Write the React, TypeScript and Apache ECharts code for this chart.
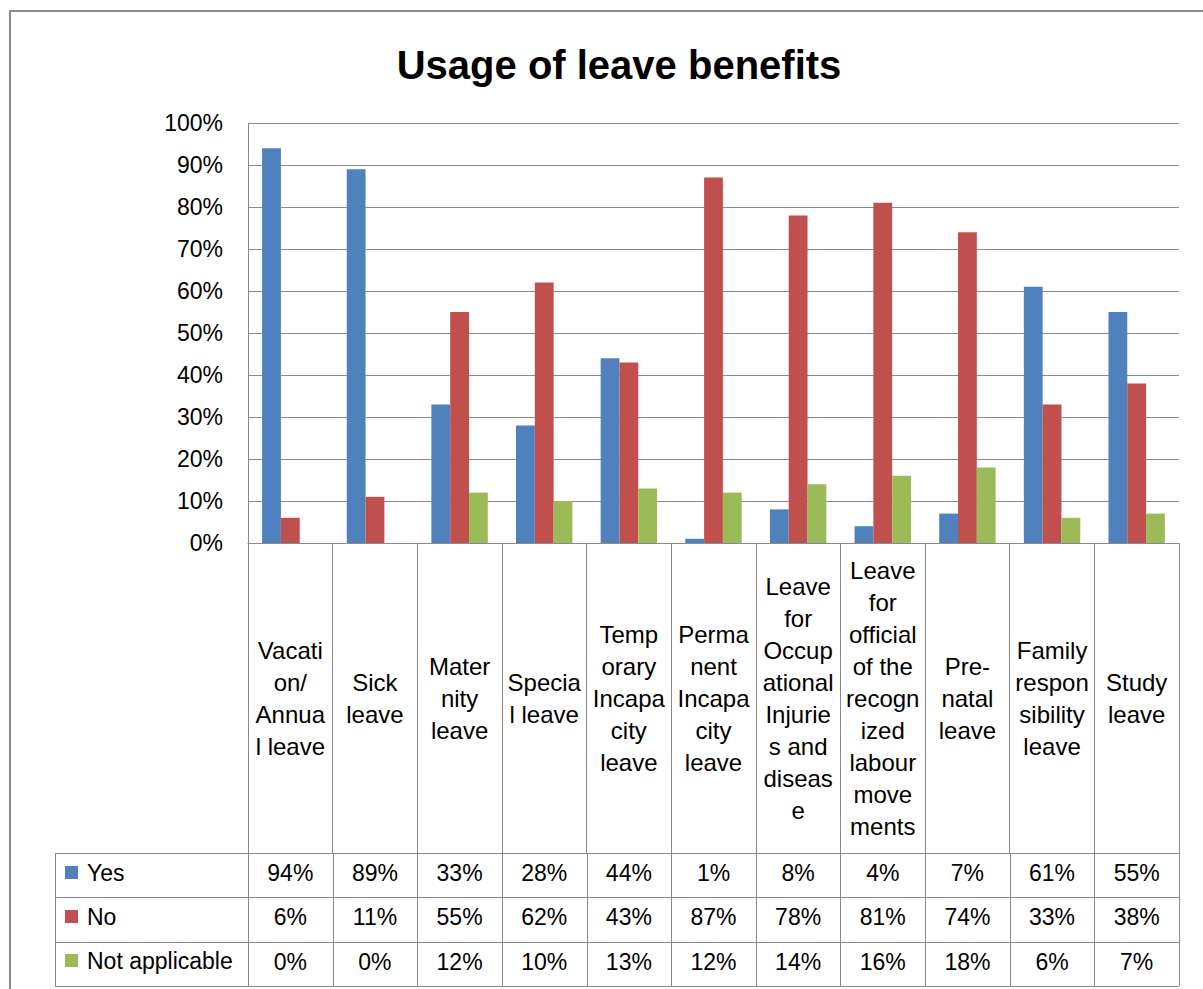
import React, { useEffect, useRef } from "react";
import * as echarts from "echarts";

const categories = [
  "Vacati\non/\nAnnua\nl leave",
  "Sick\nleave",
  "Mater\nnity\nleave",
  "Specia\nl leave",
  "Temp\norary\nIncapa\ncity\nleave",
  "Perma\nnent\nIncapa\ncity\nleave",
  "Leave\nfor\nOccup\national\nInjurie\ns and\ndiseas\ne",
  "Leave\nfor\nofficial\nof the\nrecogn\nized\nlabour\nmove\nments",
  "Pre-\nnatal\nleave",
  "Family\nrespon\nsibility\nleave",
  "Study\nleave",
];
const seriesNames = ["Yes", "No", "Not applicable"];
const yesValues = [94, 89, 33, 28, 44, 1, 8, 4, 7, 61, 55];
const noValues = [6, 11, 55, 62, 43, 87, 78, 81, 74, 33, 38];
const naValues = [0, 0, 12, 10, 13, 12, 14, 16, 18, 6, 7];
const yTicks = [0, 10, 20, 30, 40, 50, 60, 70, 80, 90, 100];

const colors = ["#4F81BD", "#C0504D", "#9BBB59"];
const FONT = "'Liberation Sans', Arial, sans-serif";
const LINE = "#8a8a8a";

const GRID_LEFT = 248;
const GRID_RIGHT = 1179;
const GRID_TOP = 123;
const GRID_BOTTOM = 543;
const TABLE_TOP = 853;
const ROW_H = 44.3;
const TABLE_LEFT = 55;

export default function App() {
  const ref = useRef<HTMLDivElement>(null);
  useEffect(() => {
    if (!ref.current) return;
    const chart = echarts.init(ref.current, undefined, { renderer: "svg" });
    const n = categories.length;
    const colW = (GRID_RIGHT - GRID_LEFT) / n;
    const rows = [yesValues, noValues, naValues];

    const graphics: any[] = [];
    graphics.push({
      type: "rect",
      shape: { x: 10, y: 11, width: 1300, height: 1100 },
      style: { fill: "none", stroke: "#8c8c8c", lineWidth: 2 },
      silent: true,
    });
    for (let r = 0; r <= 3; r++) {
      const y = Math.round(TABLE_TOP + r * ROW_H) + 0.5;
      graphics.push({
        type: "line",
        shape: { x1: TABLE_LEFT, y1: y, x2: GRID_RIGHT, y2: y },
        style: { stroke: LINE, lineWidth: 1 },
        silent: true,
      });
    }
    const tableBottom = TABLE_TOP + 3 * ROW_H;
    const vx = [TABLE_LEFT];
    for (let k = 0; k <= n; k++) vx.push(GRID_LEFT + k * colW);
    vx.forEach((x) => {
      const xx = Math.round(x) + 0.5;
      graphics.push({
        type: "line",
        shape: { x1: xx, y1: TABLE_TOP, x2: xx, y2: tableBottom },
        style: { stroke: LINE, lineWidth: 1 },
        silent: true,
      });
    });
    rows.forEach((vals, r) => {
      vals.forEach((v, i) => {
        graphics.push({
          type: "text",
          x: GRID_LEFT + (i + 0.5) * colW,
          y: TABLE_TOP + (r + 0.5) * ROW_H - 2,
          style: {
            text: `${v}%`,
            fill: "#000",
            font: `23px ${FONT}`,
            align: "center",
            verticalAlign: "middle",
          },
          silent: true,
        });
      });
    });

    const mkSeries = (name: string, data: number[], color: string) => ({
      name,
      type: "bar",
      data,
      barGap: "0%",
      barCategoryGap: "33.33%",
      itemStyle: { color },
    });

    chart.setOption({
      animation: false,
      backgroundColor: "#fff",
      title: {
        text: "Usage of leave benefits",
        left: 614,
        top: 40,
        textAlign: "center",
        textStyle: {
          fontFamily: FONT,
          fontWeight: "bold",
          fontSize: 40,
          color: "#000",
        },
      },
      legend: {
        orient: "vertical",
        left: 65,
        top: TABLE_TOP + 8,
        height: 125,
        padding: 0,
        itemWidth: 13,
        itemHeight: 13,
        itemGap: 21,
        icon: "rect",
        data: seriesNames,
        textStyle: {
          fontFamily: FONT,
          fontSize: 23,
          color: "#000",
          padding: [0, 0, 0, 4],
        },
        selectedMode: false,
      },
      grid: {
        left: GRID_LEFT,
        top: GRID_TOP,
        width: GRID_RIGHT - GRID_LEFT,
        height: GRID_BOTTOM - GRID_TOP,
        containLabel: false,
      },
      xAxis: {
        type: "category",
        data: categories,
        axisLine: { show: true, lineStyle: { color: LINE, width: 1 } },
        axisTick: {
          show: true,
          length: TABLE_TOP - GRID_BOTTOM,
          lineStyle: { color: LINE, width: 1 },
        },
        axisLabel: {
          interval: 0,
          margin: (TABLE_TOP - GRID_BOTTOM) / 2,
          verticalAlign: "middle",
          fontFamily: FONT,
          fontSize: 24,
          lineHeight: 32,
          color: "#000",
          align: "center",
        },
      },
      yAxis: {
        type: "value",
        min: 0,
        max: 100,
        interval: 10,
        axisLine: { show: true, lineStyle: { color: LINE, width: 1 } },
        axisTick: { show: false },
        splitLine: { show: true, lineStyle: { color: LINE, width: 1 } },
        axisLabel: {
          margin: 25,
          formatter: (v: number) => (yTicks.includes(v) ? `${v}%` : ""),
          fontFamily: FONT,
          fontSize: 23,
          color: "#000",
        },
      },
      series: [
        mkSeries(seriesNames[0], yesValues, colors[0]),
        mkSeries(seriesNames[1], noValues, colors[1]),
        mkSeries(seriesNames[2], naValues, colors[2]),
      ],
      graphic: graphics,
    });
    return () => chart.dispose();
  }, []);
  return (
    <div
      ref={ref}
      style={{ position: "fixed", left: 0, top: 0, width: 1203, height: 989 }}
    />
  );
}
